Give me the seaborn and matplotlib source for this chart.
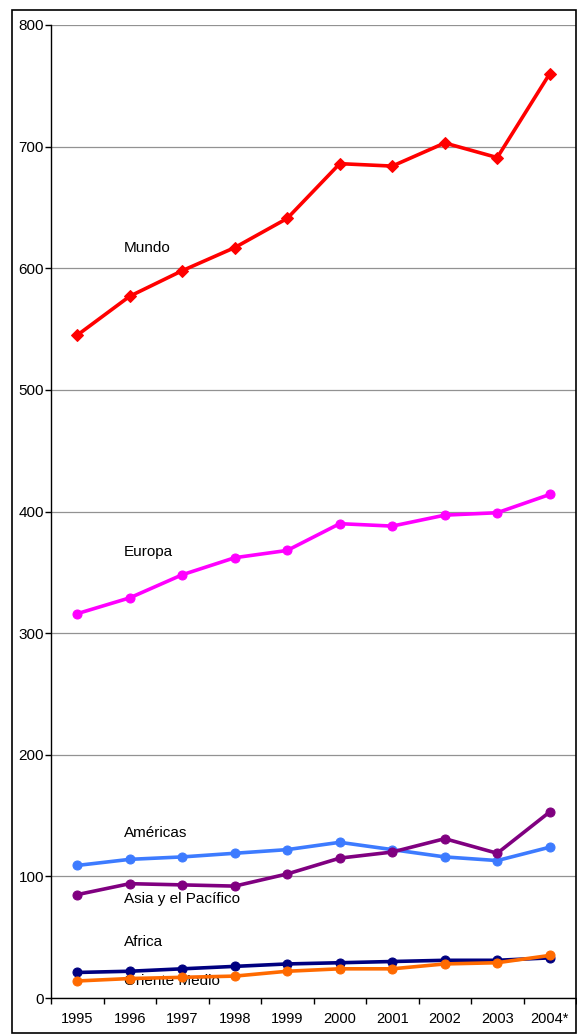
import pandas as pd
import matplotlib.pyplot as plt
import matplotlib.patches as patches
import seaborn as sns

years = ["1995", "1996", "1997", "1998", "1999", "2000", "2001", "2002", "2003", "2004*"]
mundo = [545, 577, 598, 617, 641, 686, 684, 703, 691, 760]
europa = [316, 329, 348, 362, 368, 390, 388, 397, 399, 414]
americas = [109, 114, 116, 119, 122, 128, 122, 116, 113, 124]
asia = [85, 94, 93, 92, 102, 115, 120, 131, 119, 153]
africa = [21, 22, 24, 26, 28, 29, 30, 31, 31, 33]
oriente = [14, 16, 17, 18, 22, 24, 24, 28, 29, 35]

series = ["Mundo", "Europa", "Américas", "Asia y el Pacífico", "Africa", "Oriente Medio"]
values = [mundo, europa, americas, asia, africa, oriente]
colors = ["#FF0000", "#FF00FF", "#3D7BFF", "#800080", "#000080", "#FF6A00"]
markers = ["D", "o", "o", "o", "o", "o"]
# label positions (x in category units, y in data units)
label_pos = [(0.89, 617), (0.89, 367), (0.89, 136), (0.89, 81), (0.89, 46), (0.89, 14)]

sns.set_style("white")
plt.rcParams['font.family'] = ['Liberation Sans', 'DejaVu Sans']
plt.rcParams['text.color'] = 'black'
plt.rcParams['xtick.color'] = 'black'
plt.rcParams['ytick.color'] = 'black'

fig = plt.figure(figsize=(5.77, 10.35), dpi=100)
ax = fig.add_axes([51/577, 1 - 998/1035, 525/577, 973/1035])

for name, vals, c, m in zip(series, values, colors, markers):
    df = pd.DataFrame({"year": years, "value": vals})
    sns.lineplot(data=df, x="year", y="value", ax=ax, color=c, marker=m,
                 markersize=6.5 if m == "o" else 6, markeredgecolor=c,
                 linewidth=2.6, zorder=3)

for name, (lx, ly) in zip(series, label_pos):
    ax.text(lx, ly, name, fontsize=11, va="center", ha="left", zorder=1, color="black")

ax.set_xlim(-0.5, len(years) - 0.5)
ax.set_ylim(0, 800)
ax.set_yticks(range(0, 801, 100))
ax.yaxis.grid(True, color="#929292", linewidth=0.9)
ax.set_axisbelow(True)
ax.set_xlabel("")
ax.set_ylabel("")

ax.set_xticks(range(len(years)))
ax.set_xticklabels(years)
ax.set_xticks([i - 0.5 for i in range(len(years) + 1)], minor=True)
ax.tick_params(axis="x", which="major", length=0, labelsize=10.5, pad=10)
ax.tick_params(axis="x", which="minor", length=4, width=1, color="black", direction="out", bottom=True)
ax.tick_params(axis="y", which="major", length=4, width=1, color="black", direction="out",
               left=True, labelsize=11, pad=1)

for s in ["top", "right"]:
    ax.spines[s].set_visible(False)
ax.spines["left"].set_color("black")
ax.spines["bottom"].set_color("black")
ax.spines["left"].set_linewidth(1)
ax.spines["bottom"].set_linewidth(1)

frame = patches.Rectangle((12/577, 1 - 1033/1035), 564/577, 1023/1035,
                          transform=fig.transFigure, fill=False,
                          edgecolor="black", linewidth=1.2)
fig.patches.append(frame)

fig.savefig("out.png", dpi=100)
